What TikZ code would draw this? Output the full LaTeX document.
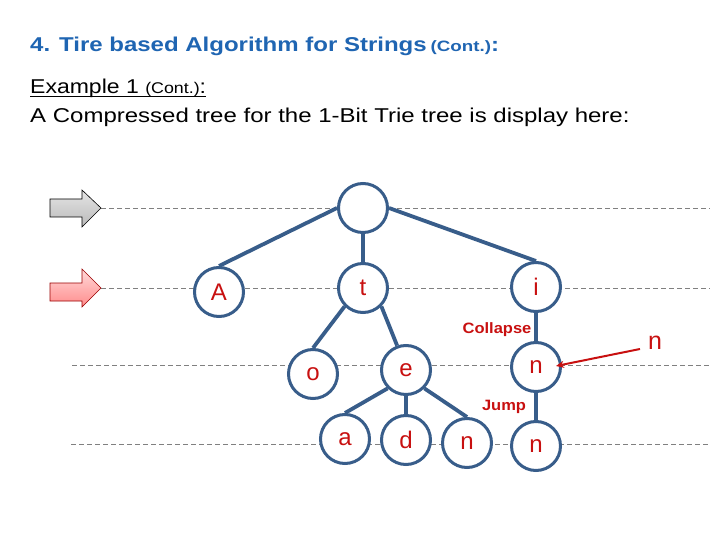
\documentclass[tikz,border=0pt]{standalone}
\usepackage{fontspec}
\setmainfont{Liberation Sans}
\usetikzlibrary{arrows.meta}
\definecolor{titleblue}{RGB}{31,101,178}
\definecolor{treeblue}{RGB}{56,93,138}
\definecolor{lblred}{RGB}{200,16,16}
\definecolor{dashgray}{RGB}{128,128,128}
\tikzset{
  tnode/.style={circle, draw=treeblue, line width=3pt, fill=white, minimum size=49pt, inner sep=0pt, text=lblred, font=\fontsize{24}{24}\selectfont},
  tedge/.style={draw=treeblue, line width=3.8pt},
  guide/.style={draw=dashgray, line width=0.9pt, dash pattern=on 5pt off 3pt},
  lbl/.style={text=lblred, font=\bfseries\fontsize{15}{15}\selectfont, inner sep=0pt},
  txt/.style={anchor=base west, inner sep=0pt}
}
\begin{document}
\begin{tikzpicture}[x=1pt,y=-1pt]
\useasboundingbox (0,0) rectangle (720,540);
% texts
\node[txt, text=titleblue] (title) at (30,52) {\bfseries\scalebox{1.2}[1]{\fontsize{20}{20}\selectfont 4. Tire based Algorithm for Strings}\hspace{4pt}\scalebox{1.25}[1]{\fontsize{15}{15}\selectfont (Cont.)}\scalebox{1.2}[1]{\fontsize{20}{20}\selectfont :}};
\node[txt] (ex) at (30,94) {\scalebox{1.15}[1]{\fontsize{20}{20}\selectfont Example 1 {\fontsize{15.5}{15.5}\selectfont (Cont.)}:}};
\draw[line width=1.2pt] ([yshift=-2.5pt]ex.base west) -- ([yshift=-2.5pt]ex.base east);
\node[txt] (desc) at (30,123) {\scalebox{1.2}[1]{\fontsize{20}{20}\selectfont A Compressed tree for the 1-Bit Trie tree is display here:}};
% guide lines
\coordinate (g1a) at (101,208); \coordinate (g1b) at (710,208);
\coordinate (g2a) at (101,288); \coordinate (g2b) at (710,288);
\coordinate (g3a) at (72,365);  \coordinate (g3b) at (710,365);
\coordinate (g4a) at (71,444);  \coordinate (g4b) at (710,444);
\draw[guide] (g1a) -- (g1b);
\draw[guide] (g2a) -- (g2b);
\draw[guide] (g3a) -- (g3b);
\draw[guide] (g4a) -- (g4b);
% block arrows
\shade[top color=gray!20, bottom color=gray!55, draw=black, line width=0.6pt]
  (50,199) -- (82,199) -- (82,190) -- (101,208) -- (82,227) -- (82,217) -- (50,217) -- cycle;
\shade[top color=red!15, bottom color=red!45, draw=red!60!black, line width=0.6pt]
  (50,283) -- (82,283) -- (82,269) -- (101,288) -- (82,307) -- (82,301) -- (50,301) -- cycle;
% nodes
\node[tnode] (root) at (363,208) {};
\node[tnode] (A) at (219,292) {A};
\node[tnode] (t) at (363,288) {t};
\node[tnode] (i) at (536,287) {i};
\node[tnode] (o) at (313,374) {o};
\node[tnode] (e) at (406,370) {e};
\node[tnode] (n1) at (536,367) {n};
\node[tnode] (a) at (345,439) {a};
\node[tnode] (d) at (406,440) {d};
\node[tnode] (n3) at (467,443) {n};
\node[tnode] (n2) at (536,446) {n};
% edges
\draw[tedge] (root.west) -- (A.north);
\draw[tedge] (root.south) -- (t.north);
\draw[tedge] (root.east) -- (i.north);
\draw[tedge] (t.south west) -- (o.north);
\draw[tedge] (t.south east) -- (e.110);
\draw[tedge] (e.south west) -- (a.north);
\draw[tedge] (e.south) -- (d.north);
\draw[tedge] (e.south east) -- (n3.north);
\draw[tedge] (i.south) -- (n1.north);
\draw[tedge] (n1.south) -- (n2.north);
% labels
\node[lbl] (collapse) at (497,330) {\scalebox{1.1}[1]{Collapse}};
\node[lbl] (jump) at (504,407) {\scalebox{1.1}[1]{Jump}};
\node[text=lblred, font=\fontsize{25}{25}\selectfont, inner sep=0pt] (nout) at (655,343) {n};
\coordinate (arrs) at (640,349);
\draw[lblred, line width=2pt, -{Stealth[length=8pt,width=7pt]}] (arrs) -- ([xshift=-6pt,yshift=1pt]n1.east);
\end{tikzpicture}
\end{document}
